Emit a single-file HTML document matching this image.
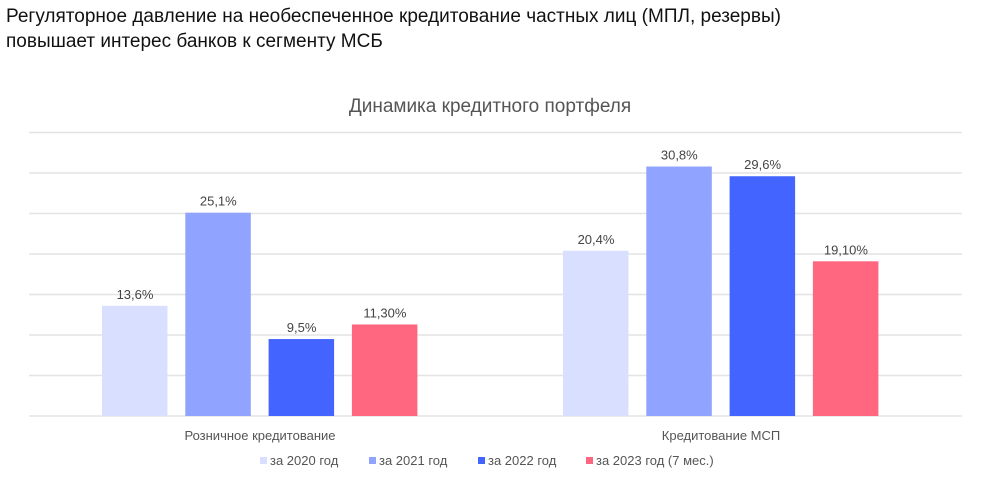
<!DOCTYPE html>
<html><head><meta charset="utf-8">
<style>
body{margin:0;width:991px;height:477px;background:#fff;font-family:"Liberation Sans",sans-serif;overflow:hidden}
.h{position:absolute;left:6px;top:4px;font-size:19px;line-height:25px;color:#111}
svg{position:absolute;left:0;top:0}
</style></head><body>
<div class="h">Регуляторное давление на необеспеченное кредитование частных лиц (МПЛ, резервы)<br>повышает интерес банков к сегменту МСБ</div>
<svg id="c" width="991" height="477">
<text x="490" y="112" text-anchor="middle" font-size="19" fill="#555">Динамика кредитного портфеля</text>
</svg>
<script>
const categories=["Розничное кредитование","Кредитование МСП"];
const seriesNames=["за 2020 год","за 2021 год","за 2022 год","за 2023 год (7 мес.)"];
const s2020=[13.6,20.4];
const s2021=[25.1,30.8];
const s2022=[9.5,29.6];
const s2023=[11.3,19.1];
const labels2020=["13,6%","20,4%"];
const labels2021=["25,1%","30,8%"];
const labels2022=["9,5%","29,6%"];
const labels2023=["11,30%","19,10%"];
const gridTicks=[0,5,10,15,20,25,30,35];
const series=[s2020,s2021,s2022,s2023];
const labels=[labels2020,labels2021,labels2022,labels2023];
const colors=["#d9e0ff","#8fa3ff","#4364ff","#ff6680"];
const svg=document.getElementById('c');
const NS="http://www.w3.org/2000/svg";
const y=v=>416-v*8.1;
const groupX=i=>102+i*461;
function mk(t,a){const e=document.createElementNS(NS,t);for(const k in a)e.setAttribute(k,a[k]);svg.appendChild(e);return e;}
gridTicks.forEach(t=>{
const l=mk('line',{x1:29,x2:962,y1:y(t),y2:y(t),stroke:'#e3e3e3','stroke-width':1.5});


});
categories.forEach((c,i)=>{
series.forEach((s,j)=>{
const x=groupX(i)+j*83.3;
const r=mk('rect',{x:x,y:y(s[i]),width:65.5,height:s[i]*8.1,fill:colors[j]});


const t=mk('text',{x:x+33,y:y(s[i])-7,'text-anchor':'middle','font-size':13,fill:'#444'});
t.textContent=labels[j][i];


});
const ct=mk('text',{x:groupX(i)+158,y:440,'text-anchor':'middle','font-size':13,fill:'#555'});
ct.textContent=c;


});
const lx=[260,369,478,586];
seriesNames.forEach((n,j)=>{
const r=mk('rect',{x:lx[j],y:457,width:7,height:7,fill:colors[j]});


const t=mk('text',{x:lx[j]+10,y:465,'font-size':13,fill:'#555'});
t.textContent=n;


});
</script>
</body></html>
